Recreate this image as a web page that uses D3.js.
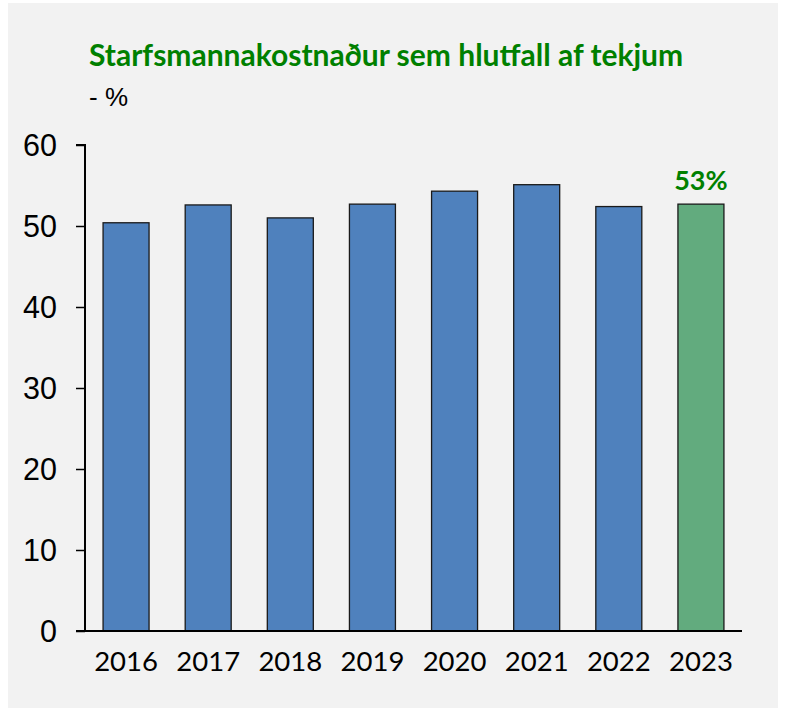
<!DOCTYPE html>
<html>
<head>
<meta charset="utf-8">
<script src="https://cdn.jsdelivr.net/npm/d3@7"></script>
<style>
  body { margin: 0; background: #ffffff; }
</style>
</head>
<body>
<script>
// chart data
var years = ["2016", "2017", "2018", "2019", "2020", "2021", "2022", "2023"];
var values = [50.4, 52.6, 51.0, 52.7, 54.3, 55.1, 52.4, 52.7];
var yTicks = [0, 10, 20, 30, 40, 50, 60];
var lastLabel = "53%";

var w = 786, h = 710;
var plotLeft = 85, plotRight = 742, plotTop = 145, plotBottom = 631;

var svg = d3.select("body")
		.append("svg")
		.attr("width", w)
		.attr("height", h);

// panel background
svg.append("rect")
	.attr("x", 8)
	.attr("y", 3)
	.attr("width", 770)
	.attr("height", 705)
	.attr("fill", "#f2f2f2");

var x = d3.scaleBand()
		.domain(years)
		.range([plotLeft, plotRight])
		.paddingInner(0.44)
		.paddingOuter(0.22);

var y = d3.scaleLinear()
		.domain([0, 60])
		.range([plotBottom, plotTop]);

// title
svg.append("text")
	.attr("x", 89)
	.attr("y", 66)
	.attr("font-family", "Lato")
	.attr("font-weight", "bold")
	.attr("font-size", 30)
	.attr("fill", "#008000")
	.text("Starfsmannakostnaður sem hlutfall af tekjum");

svg.append("text")
	.attr("x", 89)
	.attr("y", 106)
	.attr("font-family", "Liberation Sans")
	.attr("font-size", 26)
	.attr("fill", "#000")
	.text("- %");

// bars
svg.selectAll("rect.bar")
	.data(values)
	.enter()
	.append("rect")
	.attr("class", "bar")
	.attr("x", function(d, i) { return x(years[i]); })
	.attr("y", function(d) { return y(d); })
	.attr("width", x.bandwidth())
	.attr("height", function(d) { return y(0) - y(d); })
	.attr("fill", function(d, i) { return i == years.length - 1 ? "#62ab7e" : "#4f81bd"; })
	.attr("stroke", "#1a1a1a")
	.attr("stroke-width", 1.3);

// label on last bar
svg.append("text")
	.attr("x", x(years[years.length - 1]) + x.bandwidth() / 2)
	.attr("y", y(values[values.length - 1]) - 14)
	.attr("text-anchor", "middle")
	.attr("font-family", "Lato")
	.attr("font-weight", "bold")
	.attr("font-size", 27)
	.attr("fill", "#008000")
	.text(lastLabel);

// y axis
var yAxis = svg.append("g")
		.attr("transform", "translate(" + plotLeft + ",0)")
		.call(d3.axisLeft(y).tickValues(yTicks).tickSize(9).tickPadding(19));
yAxis.select(".domain").attr("stroke", "#000").attr("stroke-width", 2)
	.attr("d", "M-9," + y(60) + "H0V" + y(0));
yAxis.selectAll(".tick line").attr("stroke", "#000").attr("stroke-width", 1.5);
yAxis.selectAll(".tick text")
	.attr("font-family", "Liberation Sans")
	.attr("font-size", 30.5)
	.attr("fill", "#000")
	.attr("dy", "0.36em");

// x axis
var xAxis = svg.append("g")
		.attr("transform", "translate(0," + plotBottom + ")")
		.call(d3.axisBottom(x).tickSize(0).tickPadding(20));
xAxis.select(".domain").attr("stroke", "#000").attr("stroke-width", 2)
	.attr("d", "M" + (plotLeft - 9) + ",0H" + plotRight);
xAxis.selectAll(".tick text")
	.attr("font-family", "Lato")
	.attr("font-size", 27.5)
	.attr("fill", "#000")
	.attr("dy", "0.71em");
</script>
</body>
</html>
